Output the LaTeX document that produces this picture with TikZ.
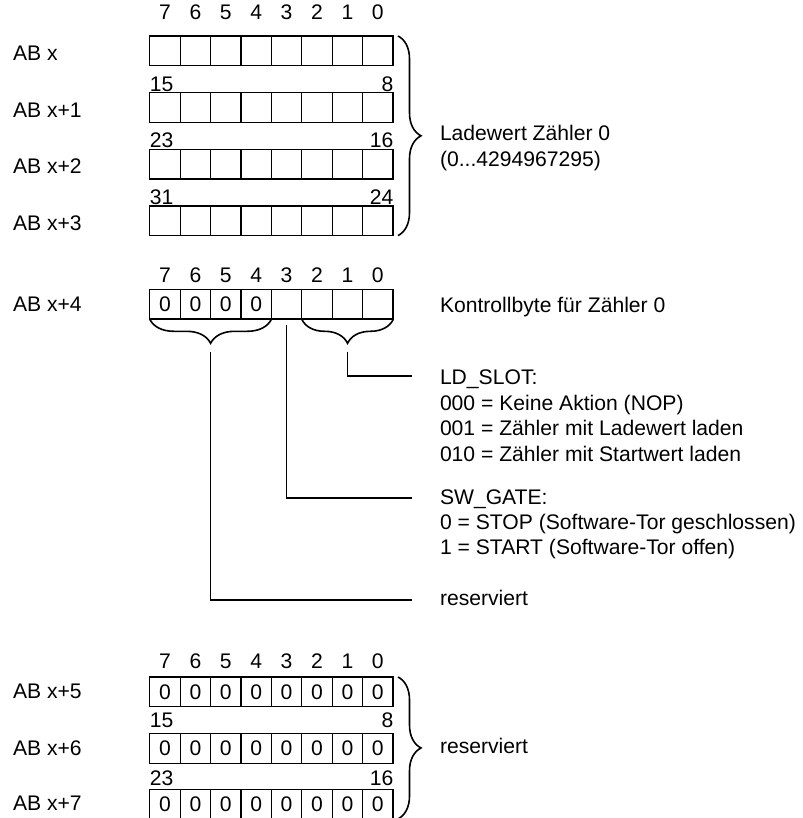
\documentclass[tikz,border=0pt]{standalone}
\usepackage{fontspec}
\setmainfont{Liberation Sans}
\usetikzlibrary{decorations.pathreplacing}
\begin{document}
\begin{tikzpicture}[x=1bp,y=-1bp,
  font=\fontsize{21.2}{25}\selectfont,
  cell/.style={draw, line width=1.2bp, minimum width=30.4bp, minimum height=29.6bp, inner sep=0pt, outer sep=0pt, anchor=north west},
  txt/.style={inner sep=0pt, outer sep=0pt, anchor=base west},
  num/.style={inner sep=0pt, outer sep=0pt, anchor=base},
  bracebig/.style={draw, line width=1.6bp, decorate, decoration={brace, amplitude=23bp}},
  braceunder/.style={draw, line width=1.6bp, decorate, decoration={brace, amplitude=24bp}},
  conn/.style={draw, line width=1.7bp}]
\useasboundingbox (0,0) rectangle (803,818);

% ---------- top section: load value ----------
\foreach \r/\t in {a/36, b/92.7, c/149.3, d/206}{
  \foreach \i in {0,...,7}{
    \node[cell] (\r\i) at ({149.8+\i*30.4},\t) {};
  }
}
\foreach \i/\b in {0/7,1/6,2/5,3/4,4/3,5/2,6/1,7/0}{
  \node[num] (na\i) at ({149.8+(\i+0.5)*30.4},19.6) {\b};
}
\node[txt] (l15) at (149.8,91) {15};
\node[txt, anchor=base east] (l8) at (393.3,91) {8};
\node[txt] (l23) at (149.8,147.6) {23};
\node[txt, anchor=base east] (l16) at (393.3,147.6) {16};
\node[txt] (l31) at (149.8,204.3) {31};
\node[txt, anchor=base east] (l24) at (393.3,204.3) {24};

\node[txt] (abx)  at (13,60.6)  {AB x};
\node[txt] (abx1) at (13,117.3) {AB x+1};
\node[txt] (abx2) at (13,173.9) {AB x+2};
\node[txt] (abx3) at (13,230.1) {AB x+3};

\coordinate (bt1) at (398,36);
\coordinate (bt2) at (398,235.6);
\draw[bracebig] (bt1) -- (bt2);
\node[txt] (lw1) at (440,140.6) {Ladewert Zähler 0};
\node[txt] (lw2) at (440,166.6) {(0...4294967295)};

% ---------- control byte ----------
\foreach \i in {0,...,3}{
  \node[cell] (k\i) at ({149.8+\i*30.4},289.3) {0};
}
\foreach \i in {4,...,7}{
  \node[cell] (k\i) at ({149.8+\i*30.4},289.3) {};
}
\foreach \i/\b in {0/7,1/6,2/5,3/4,4/3,5/2,6/1,7/0}{
  \node[num] (nk\i) at ({149.8+(\i+0.5)*30.4},282.6) {\b};
}
\node[txt] (abx4) at (13,311.6) {AB x+4};
\node[txt] (kb) at (440,312.6) {Kontrollbyte für Zähler 0};

\coordinate (ub1) at (271.4,319.3);
\coordinate (ub2) at (149.8,319.3);
\draw[braceunder] (ub1) -- (ub2);
\coordinate (ub3) at (393.3,319.3);
\coordinate (ub4) at (301.8,319.3);
\draw[braceunder] (ub3) -- (ub4);

% LD_SLOT
\coordinate (ldstart) at (347.5,351.7);
\coordinate (ldend) at (412,376);
\draw[conn] (ldstart) |- (ldend);
\node[txt] (ld0) at (440,384.3) {LD\_SLOT:};
\node[txt] (ld1) at (440,410.6) {000 = Keine Aktion (NOP)};
\node[txt] (ld2) at (440,435.8) {001 = Zähler mit Ladewert laden};
\node[txt] (ld3) at (440,461)   {010 = Zähler mit Startwert laden};

% SW_GATE
\coordinate (swstart) at (286.6,325);
\coordinate (swend) at (412,498);
\draw[conn] (swstart) |- (swend);
\node[txt] (sw0) at (440,504.3) {SW\_GATE:};
\node[txt] (sw1) at (440,529.4) {0 = STOP (Software-Tor geschlossen)};
\node[txt] (sw2) at (440,554.5) {1 = START (Software-Tor offen)};

% reserved bits
\coordinate (rsstart) at (210.6,351.7);
\coordinate (rsend) at (412,600);
\draw[conn] (rsstart) |- (rsend);
\node[txt] (rs) at (440,605) {reserviert};

% ---------- bottom section ----------
\foreach \r/\t in {e/677, f/733.5, g/789.3}{
  \foreach \i in {0,...,7}{
    \node[cell] (\r\i) at ({149.8+\i*30.4},\t) {0};
  }
}
\foreach \i/\b in {0/7,1/6,2/5,3/4,4/3,5/2,6/1,7/0}{
  \node[num] (ne\i) at ({149.8+(\i+0.5)*30.4},668) {\b};
}
\node[txt] (m15) at (149.8,727.6) {15};
\node[txt, anchor=base east] (m8) at (393.3,727.6) {8};
\node[txt] (m23) at (149.8,785.6) {23};
\node[txt, anchor=base east] (m16) at (393.3,785.6) {16};

\node[txt] (abx5) at (13,698.9) {AB x+5};
\node[txt] (abx6) at (13,755.1) {AB x+6};
\node[txt] (abx7) at (13,810.4) {AB x+7};

\coordinate (bb1) at (398,677);
\coordinate (bb2) at (398,818.9);
\draw[bracebig] (bb1) -- (bb2);
\node[txt] (rs2) at (440,753) {reserviert};
\end{tikzpicture}
\end{document}
